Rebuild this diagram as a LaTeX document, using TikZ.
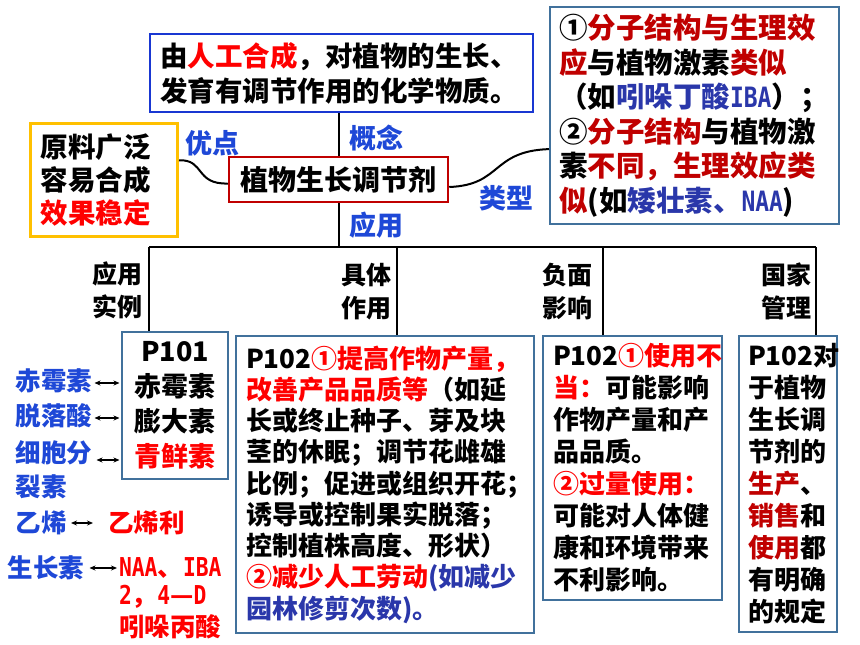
\documentclass[tikz,border=0pt]{standalone}
\usepackage{fontspec}
\setmainfont{Noto Sans CJK SC}
\newfontfamily\hwfont{DejaVu Sans Mono}[FakeStretch=0.82]
\usetikzlibrary{calc,arrows.meta}
\definecolor{lblue}{RGB}{30,72,215}
\definecolor{dblue}{RGB}{42,55,170}
\definecolor{bred}{RGB}{255,0,0}
\definecolor{dred}{RGB}{192,0,0}
\definecolor{sblue}{RGB}{65,113,156}
\definecolor{cblue}{RGB}{25,55,210}
\definecolor{orng}{RGB}{255,192,0}
\newcommand\hw[2]{{\hwfont\bfseries\fontsize{#1}{#1}\selectfont #2}}
\newcommand\fs[2]{\bfseries\fontsize{#1}{#2}\selectfont}
\begin{document}
\begin{tikzpicture}[x=1pt,y=-1pt,line width=2pt,
  every node/.style={inner sep=0pt,font=\bfseries},
  bx/.style={draw=sblue,line width=2.2pt,anchor=north west,align=left},
  lbl/.style={text=lblue,anchor=west,font=\fs{27}{32}},
  blbl/.style={anchor=east,align=right,font=\fs{25}{33}},
  slbl/.style={text=lblue,anchor=west,font=\fs{25.5}{30}},
  rlbl/.style={text=bred,anchor=west,font=\fs{25.5}{30}},
  dbl/.style={line width=1.5pt,{Stealth[length=6pt,width=5pt]}-{Stealth[length=6pt,width=5pt]}}]
\fill[white] (0,0) rectangle (860,645);
\useasboundingbox (0,0) rectangle (860,645);

% concept box
\node[draw=cblue,line width=2.2pt,anchor=north west,align=left,minimum height=78pt,
  text width=363pt,inner xsep=10pt,font=\fs{27.5}{35}] (concept) at (149,33)
  {由\textcolor{bred}{人工合成}，对植物的生长、\\发育有调节作用的化学物质。};

% main node
\node[draw=dred,line width=2.5pt,minimum width=219pt,minimum height=45pt,
  font=\fs{28}{28}] (main) at (338.5,179.5) {植物生长调节剂};

% advantages box
\node[draw=orng,line width=3pt,anchor=north west,align=left,minimum height=113pt,
  text width=127pt,inner xsep=10pt,font=\fs{27.5}{33}] (adv) at (29,122)
  {原料广泛\\容易合成\\\textcolor{bred}{效果稳定}};

% type box
\node[bx,minimum height=217pt,text width=271pt,inner xsep=9pt,font=\fs{28.5}{34.5}] (type) at (549,6)
  {①\textcolor{dred}{分子结构与生理效}\\
   \textcolor{dred}{应}与植物激素\textcolor{dred}{类似}\\
   （如\textcolor{dblue}{吲哚丁酸\hw{28pt}{IBA}}）；\\
   ②\textcolor{dred}{分子结构}与植物激\\
   素\textcolor{dred}{不同，生理效应类}\\
   \textcolor{dred}{似}(如\textcolor{dblue}{矮壮素、\hw{28pt}{NAA}})};

% labels
\node[lbl] (gn) at (348,138) {概念};
\node[lbl] (yy) at (348,225) {应用};
\node[lbl] (yd) at (184,143) {优点};
\node[lbl] (lx) at (478,198) {类型};

% connectors top
\draw (main.north) -- (main.north |- concept.south);
\coordinate (advc) at ($(adv.north east)!0.33!(adv.south east)$);
\coordinate (mainw) at ($(main.west)+(0,4)$);
\draw (advc) .. controls ($(advc)+(26,-1)$) and ($(mainw)+(-33,1)$) .. (mainw);
\coordinate (maine) at ($(main.east)+(0,7.5)$);
\coordinate (typew) at ($(type.west)+(0,33.5)$);
\draw (maine) .. controls ($(maine)+(53,-2)$) and ($(typew)+(-58,2)$) .. (typew);

% lower boxes
\node[bx,align=center,minimum height=147pt,text width=96pt,inner xsep=5pt,font=\fs{27}{35}] (p101) at (121,331)
  {P101\\赤霉素\\膨大素\\\textcolor{bred}{青鲜素}};
\node[bx,minimum height=297pt,text width=278pt,inner xsep=10pt,font=\fs{26}{31.25}] (p102) at (235,335)
  {P102\textcolor{bred}{①提高作物产量，}\\
   \textcolor{bred}{改善产品品质等}（如延\\
   长或终止种子、芽及块\\
   茎的休眠；调节花雌雄\\
   比例；促进或组织开花；\\
   诱导或控制果实脱落；\\
   控制植株高度、形状）\\
   \textcolor{bred}{②减少人工劳动}\textcolor{dblue}{(如减少}\\
   \textcolor{dblue}{园林修剪次数)。}};
\node[bx,minimum height=264pt,text width=159pt,inner xsep=10pt,font=\fs{26}{32}] (neg) at (542,335)
  {P102\textcolor{bred}{①使用不}\\
   \textcolor{bred}{当：}可能影响\\
   作物产量和产\\
   品品质。\\
   \textcolor{bred}{②过量使用：}\\
   可能对人体健\\
   康和环境带来\\
   不利影响。};
\node[bx,minimum height=296pt,text width=80pt,inner xsep=9pt,font=\fs{26}{32}] (mgmt) at (738,335)
  {P102对\\于植物\\生长调\\节剂的\\
   \textcolor{dred}{生产}、\\\textcolor{dred}{销售}和\\\textcolor{dred}{使用}都\\有明确\\的规定};

% branch labels
\node[blbl] (bl1) at (143,290.5) {应用\\实例};
\node[blbl] (bl2) at (392,291.5) {具体\\作用};
\node[blbl] (bl3) at (593,291.5) {负面\\影响};
\node[blbl] (bl4) at (812,291.5) {国家\\管理};

% tree lines
\coordinate (b1) at (149,247);
\coordinate (b2) at (397,247);
\coordinate (b3) at (603,247);
\coordinate (b4) at (816,247);
\draw (main.south) -- (main.south |- b1);
\draw (b1) -- (b4);
\draw (b1) -- (b1 |- p101.north);
\draw (b2) -- (b2 |- p102.north);
\draw (b3) -- (b3 |- neg.north);
\draw (b4) -- (b4 |- mgmt.north);

% left hormone labels
\node[slbl] (h1) at (15,381) {赤霉素};
\node[slbl] (h2) at (15,416) {脱落酸};
\node[slbl] (h3a) at (15,453) {细胞分};
\node[slbl] (h3b) at (15,487) {裂素};
\node[slbl] (h4) at (15,523) {乙烯};
\node[slbl] (h5) at (7,568) {生长素};
\node[rlbl] (h4r) at (107,523) {乙烯利};
\node[rlbl] (h5r) at (118,568) {\hw{26pt}{NAA}、\hw{26pt}{IBA}};
\node[rlbl] (h5s) at (118,597) {\hw{26pt}{2}，\hw{26pt}{4}—\hw{26pt}{D}};
\node[rlbl] (h5t) at (118,627) {吲哚丙酸};

\draw[dbl,shorten <=1pt,shorten >=1.5pt] ($(h1.east)+(0,2)$) -- ($(h1.east -| p101.west)+(0,2)$);
\draw[dbl,shorten <=1pt,shorten >=1.5pt] ($(h2.east)+(0,2)$) -- ($(h2.east -| p101.west)+(0,2)$);
\draw[dbl,shorten <=3pt,shorten >=1.5pt] ($(h3a.east)+(0,7)$) -- ($(h3a.east -| p101.west)+(0,7)$);
\draw[dbl,shorten <=3pt,shorten >=14pt] (h4) -- (h4r);
\draw[dbl,shorten <=4pt,shorten >=1pt] (h5) -- (h5r);
\end{tikzpicture}
\end{document}
